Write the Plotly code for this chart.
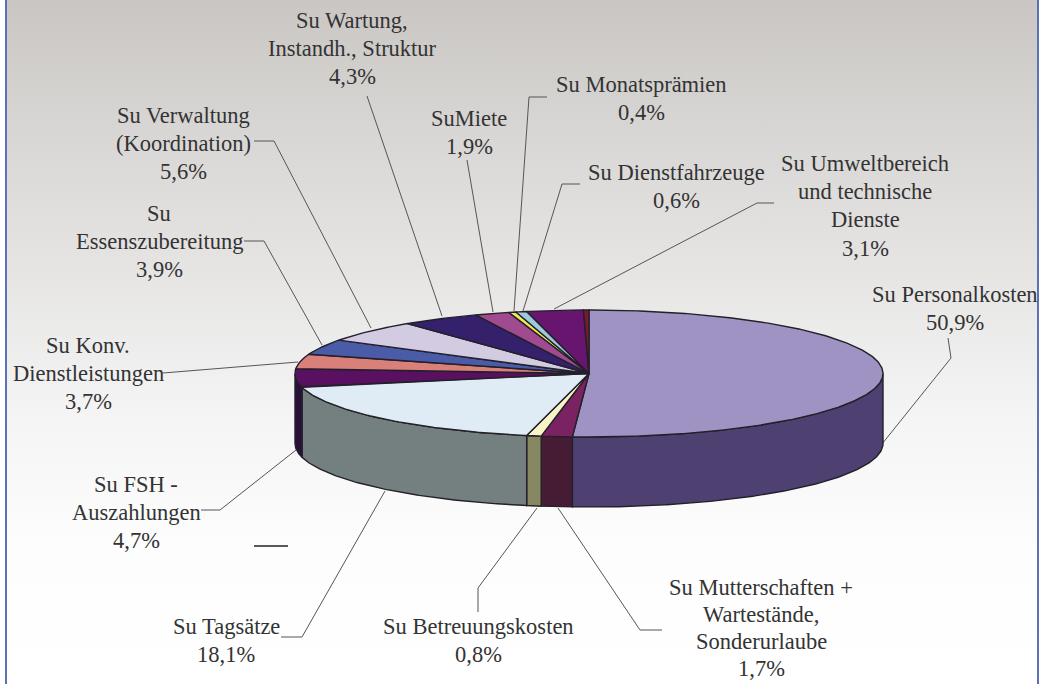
import math
import plotly.graph_objects as go

# ---- data ----
categories = [
    "Su Personalkosten", "Su Mutterschaften +\nWartestände,\nSonderurlaube",
    "Su Betreuungskosten", "Su Tagsätze", "Su FSH -\nAuszahlungen",
    "Su Konv.\nDienstleistungen", "Su\nEssenszubereitung",
    "Su Verwaltung\n(Koordination)", "Su Wartung,\nInstandh., Struktur", "SuMiete",
    "Su Monatsprämien", "Su Dienstfahrzeuge",
    "Su Umweltbereich\nund technische\nDienste", "",
]
values = [50.9, 1.7, 0.8, 18.1, 4.7, 3.7, 3.9, 5.6, 4.3, 1.9, 0.4, 0.6, 3.1, 0.3]

# ---- styles ----
top_colors = ["#9E93C2", "#7A2262", "#F8F4C6", "#E0ECF5", "#5A1060", "#D9807A", "#4A5CA8",
              "#D2CBE2", "#35206C", "#A04A90", "#F0E858", "#9CCBDB", "#681570", "#7A1A30"]
side_colors = ["#4E4171", "#451C33", "#878762", "#74807F", "#2A1038", "#6C403D", "#252E54",
               "#696571", "#1A1036", "#502548", "#78742C", "#50666E", "#340A38", "#3D0D18"]
CX, CY, RX, RY, DEPTH = 589, 373.5, 294, 63.5, 70
W, H = 1051, 684
FONT = dict(family="Liberation Serif", size=22.5, color="#333333")
LINE_STEP = 28.4
label_anchor = [(955, 294), (761, 587), (478, 626), (226, 626), (136, 484), (88, 345), (159, 213),
                (183, 115), (352, 20), (469, 118), (641, 84), (676, 172), (865, 163)]
label_step = [LINE_STEP, 27.2] + [LINE_STEP] * 11
leaders = [
    [(948, 338), (951, 358), (882, 444)], [(662, 630), (640, 630), (558, 508)],
    [(478, 612), (478, 588), (537, 508)], [(281, 637), (302, 637), (385, 491)],
    [(201, 510), (220, 510), (296, 450)], [(163, 373), (298, 362)],
    [(244, 241), (264, 241), (322, 345)], [(254, 141), (274, 141), (371, 328)],
    [(367, 96), (442, 316)], [(467, 160), (493, 312)],
    [(547, 97), (529, 97), (514, 311)], [(580, 184), (562, 184), (523, 311)],
    [(774, 203), (757, 203), (554, 309)],
]


def pt(a, dz=0):
    r = math.radians(a)
    return CX + RX * math.sin(r), CY - RY * math.cos(r) + dz


def arc(a0, a1, dz=0):
    n = max(2, int(abs(a1 - a0) * 2) + 1)
    return [pt(a0 + (a1 - a0) * i / (n - 1), dz) for i in range(n)]


fig = go.Figure()


def poly(points, fill, line="#23202A", lw=1.4, mode="lines", closed=True):
    xs = [p[0] for p in points]
    ys = [p[1] for p in points]
    if closed:
        xs.append(xs[0])
        ys.append(ys[0])
    fig.add_trace(go.Scatter(x=xs, y=ys, mode=mode, fill="toself" if closed else "none",
                             fillcolor=fill, line=dict(color=line, width=lw),
                             hoverinfo="skip", showlegend=False))


# page background with the grey-to-white gradient (axis is reversed, so 0 is the picture's bottom)
fig.add_trace(go.Scatter(
    x=[6, 1038, 1038, 6, 6], y=[0, 0, H, H, 0], mode="lines", fill="toself",
    line=dict(width=0), hoverinfo="skip", showlegend=False,
    fillgradient=dict(type="vertical", colorscale=[
        [0, "#FFFFFF"], [0.2, "#FDFDFD"], [0.4, "#F4F4F4"], [0.6, "#E6E5E4"], [0.8, "#D9D7D5"], [1, "#C9C6C3"]])))

# leader lines
for pts in leaders:
    poly(pts, "rgba(0,0,0,0)", line="#555555", lw=1, closed=False)

# slices
total = sum(values)
angles = [0]
for v in values:
    angles.append(angles[-1] + v / total * 360)

for i in range(len(values)):
    a0, a1 = max(angles[i], 90), min(angles[i + 1], 270)
    if a1 > a0:
        poly(arc(a0, a1) + arc(a1, a0, DEPTH), side_colors[i])
for i in range(len(values)):
    poly([(CX, CY)] + arc(angles[i], angles[i + 1]), top_colors[i])

# labels
for name, v, (cx, y0), step in zip(categories, values, label_anchor, label_step):
    lines = name.split("\n") + [f"{v:.1f}".replace(".", ",") + "%"]
    for k, text in enumerate(lines):
        fig.add_annotation(x=cx, y=y0 + k * step, text=text, showarrow=False,
                           xanchor="center", yanchor="middle", font=FONT)

fig.update_layout(
    width=W, height=H, margin=dict(l=0, r=0, t=0, b=0),
    paper_bgcolor="white", plot_bgcolor="white", showlegend=False,
    xaxis=dict(range=[0, W], visible=False, fixedrange=True),
    yaxis=dict(range=[H, 0], visible=False, fixedrange=True),
    shapes=[
        dict(type="line", x0=6, x1=6, y0=0, y1=H, line=dict(color="#5B72B5", width=2)),
        dict(type="line", x0=1038, x1=1038, y0=0, y1=H, line=dict(color="#5B72B5", width=2)),
        dict(type="line", x0=254, x1=288, y0=546, y1=546, line=dict(color="#222222", width=1.5)),
    ],
)
fig.write_html("out.html", config={"displayModeBar": False},
               post_script="document.body.style.margin='0';document.body.style.overflow='hidden';")
